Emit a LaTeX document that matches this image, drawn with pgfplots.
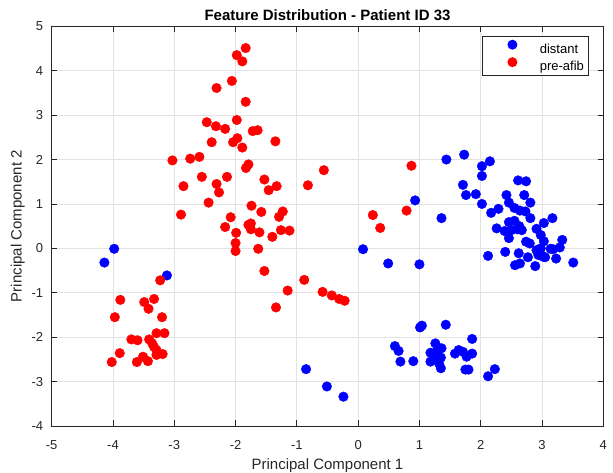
\documentclass[border=0pt]{standalone}
\usepackage{fontspec}
\setmainfont{Liberation Sans}
\usepackage{pgfplots}
\pgfplotsset{compat=1.18}
\definecolor{axgray}{RGB}{38,38,38}
\definecolor{gridgray}{RGB}{226,226,226}
\begin{document}
\begin{tikzpicture}
\begin{axis}[
  scale only axis,
  width=551.6pt, height=399.7pt,
  xmin=-5, xmax=4, ymin=-4, ymax=5,
  xtick={-5,-4,-3,-2,-1,0,1,2,3,4},
  xticklabels={-5,-4,-3,-2,-1,0,1,2,3,4},
  ytick={-4,-3,-2,-1,0,1,2,3,4,5},
  yticklabels={-4,-3,-2,-1,0,1,2,3,4,5},
  xtick pos=both, ytick pos=both,
  tick align=inside,
  major tick length=5.5pt,
  axis line style={axgray, line width=0.8pt},
  every tick/.style={axgray, line width=0.8pt},
  grid=major,
  major grid style={gridgray, line width=0.8pt},
  tick label style={font=\fontsize{13}{15}\selectfont, text=axgray},
  xticklabel style={anchor=base, yshift=-23.7pt},
  yticklabel style={anchor=east, inner sep=0pt, xshift=-8.4pt},
  title={\textbf{Feature Distribution - Patient ID 33}},
  title style={at={(axis description cs:0.5,0.9995)}, anchor=base, font=\fontsize{15}{18}\selectfont, text=black},
  xlabel={Principal Component 1},
  ylabel={Principal Component 2},
  xlabel style={at={(axis description cs:0.5,-0.11)}, anchor=base, font=\fontsize{15}{18}\selectfont, text=axgray},
  ylabel style={at={(axis description cs:-0.0545,0.5)}, anchor=base, font=\fontsize{15}{18}\selectfont, text=axgray},
  legend style={at={(axis description cs:1,1)}, anchor=north east, xshift=-15pt, yshift=-9.5pt,
    draw=axgray, line width=0.8pt, fill=white, inner xsep=4pt, inner ysep=3.5pt, row sep=2.5pt,
    font=\fontsize{13}{15}\selectfont, text=black,
    nodes={inner sep=0pt}},
  legend cell align=left,
  legend image code/.code={%
    \path[draw=none, fill=none] (0pt,0pt) rectangle (53.4pt,0pt);
    \fill[#1, draw=none] (26pt,4.5pt) circle[radius=5pt];
  },
]
\addplot[only marks, mark=*, mark size=4.8pt, color=blue, mark options={draw=blue, fill=blue}] coordinates {
(0.08,-0.02) (-3.98,-0.01) (-4.14,-0.32) (-3.12,-0.61) (0.49,-0.34) (1.00,-0.36)
(0.93,1.08) (1.36,0.68) (1.44,2.00) (-0.85,-2.72) (-0.51,-3.11) (-0.24,-3.34)
(1.01,-1.78) (1.04,-1.74) (1.43,-1.72) (1.86,-2.04) (0.60,-2.20) (0.66,-2.31)
(0.69,-2.55) (0.90,-2.54) (1.26,-2.14) (1.18,-2.35) (1.30,-2.27) (1.36,-2.25)
(1.18,-2.55) (1.27,-2.43) (1.35,-2.46) (1.35,-2.70) (1.32,-2.59) (1.58,-2.37)
(1.64,-2.29) (1.71,-2.33) (1.77,-2.44) (1.86,-2.37) (1.75,-2.73) (1.80,-2.73)
(2.12,-2.88) (2.23,-2.72)
(1.73,2.11) (2.02,1.85) (2.15,1.96) (2.02,1.63) (1.71,1.43) (1.76,1.20)
(1.92,1.22) (2.02,1.00) (2.17,0.80) (2.29,0.89) (2.61,1.53) (2.74,1.51)
(2.42,1.20) (2.71,1.20) (2.81,1.03) (2.46,1.03) (2.55,0.91) (2.64,0.85)
(2.73,0.83) (2.81,0.68) (3.17,0.68) (3.03,0.57) (2.46,0.59) (2.55,0.62)
(2.63,0.50) (2.67,0.41) (2.50,0.41) (2.60,0.43) (2.26,0.45) (2.39,0.39)
(2.46,0.23) (2.91,0.44) (2.98,0.30) (3.03,0.16) (2.74,0.15) (2.80,0.11)
(3.33,0.19) (3.29,0.02) (3.18,-0.02) (3.14,-0.01) (2.91,-0.04) (2.98,0.00)
(2.94,-0.15) (3.02,-0.19) (3.05,-0.20) (2.40,-0.08) (2.62,-0.11) (2.12,-0.17)
(2.77,-0.20) (2.56,-0.38) (2.64,-0.34) (2.89,-0.40) (3.23,-0.23) (3.51,-0.32)
};
\addlegendentry{distant}
\addplot[only marks, mark=*, mark size=4.8pt, color=red, mark options={draw=red, fill=red}] coordinates {
(-1.835,4.51) (-1.98,4.35) (-1.89,4.21) (-2.06,3.77) (-2.31,3.61) (-1.835,3.30)
(-2.47,2.84) (-2.32,2.75) (-2.17,2.69) (-1.98,2.89) (-1.72,2.64) (-1.64,2.66)
(-2.39,2.39) (-2.04,2.39) (-1.97,2.48) (-1.89,2.27) (-1.35,2.41) (-3.03,1.98)
(-2.74,2.02) (-2.59,2.06) (-1.79,1.89) (-1.83,1.81) (-0.56,1.76) (-2.55,1.61)
(-2.14,1.61) (-2.85,1.40) (-2.31,1.45) (-2.27,1.26) (-1.53,1.55) (-1.46,1.31)
(-1.33,1.40) (-0.82,1.42) (-2.44,1.03) (-1.74,0.96) (-2.89,0.76) (-1.58,0.82)
(-1.23,0.83) (-1.29,0.71) (-2.08,0.70) (-2.17,0.48) (-1.79,0.53) (-1.75,0.56)
(-1.75,0.43) (-1.99,0.35) (-1.61,0.36) (-1.26,0.41) (-1.12,0.40) (-1.40,0.26)
(-2.00,0.12) (-2.00,-0.06) (-1.63,-0.01) (-1.53,-0.51) (-0.88,-0.71) (-1.15,-0.95)
(-0.58,-0.98) (-0.43,-1.06) (-0.31,-1.14) (-0.22,-1.18) (-1.34,-1.33) (-3.23,-0.72)
(0.87,1.86) (0.79,0.85) (0.24,0.75) (0.36,0.46)
(-3.88,-1.16) (-3.49,-1.21) (-3.42,-1.36) (-3.33,-1.14) (-3.97,-1.55) (-3.20,-1.55)
(-3.29,-1.91) (-3.16,-1.91) (-3.70,-2.05) (-3.60,-2.07) (-3.41,-2.05) (-3.36,-2.14)
(-3.33,-2.22) (-3.29,-2.29) (-3.19,-2.38) (-3.29,-2.40) (-3.89,-2.36) (-4.02,-2.56)
(-3.61,-2.56) (-3.51,-2.44) (-3.43,-2.54)
};
\addlegendentry{pre-afib}
\end{axis}
\pgfresetboundingbox
\useasboundingbox ([xshift=-51.7pt,yshift=-47pt]current axis.south west) rectangle ([xshift=9.7pt,yshift=26.3pt]current axis.north east);
\end{tikzpicture}
\end{document}
